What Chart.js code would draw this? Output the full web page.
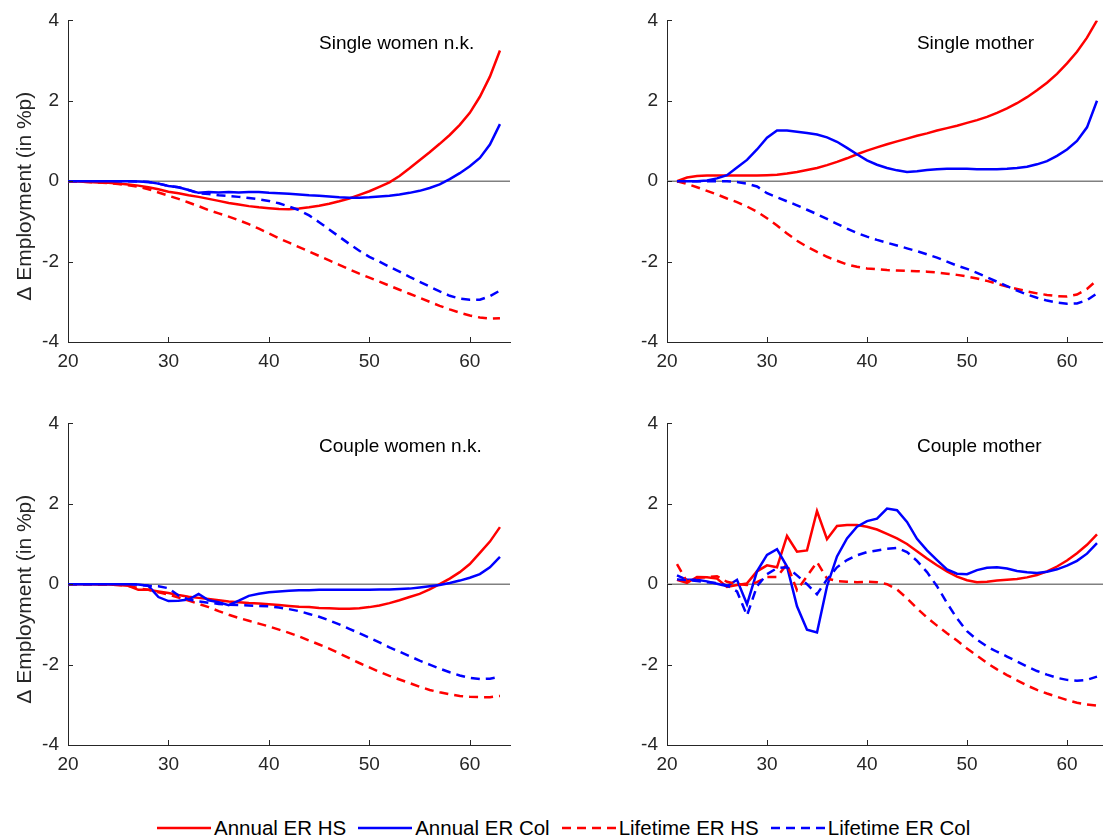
<!DOCTYPE html>
<html>
<head>
<meta charset="utf-8">
<script src="https://cdn.jsdelivr.net/npm/chart.js@4.4.1/dist/chart.umd.min.js"></script>
<style>
  body { margin: 0; background: #fff; }
  #wrap { position: relative; width: 1103px; height: 840px; overflow: hidden; background: #fff; font-family: "Liberation Sans", Arial, sans-serif; }
  .panel { position: absolute; }
  #legend { position: absolute; left: 157px; top: 817px; height: 22px; display: flex; align-items: center; font-size: 20.5px; color: #000; white-space: nowrap; }
  #legend .item { display: flex; align-items: center; margin-right: 12px; }
  #legend svg { display: block; margin-right: 3px; }
</style>
</head>
<body>
<div id="wrap">
  <div class="panel" style="left:0;top:0"><canvas id="c1" width="520" height="380"></canvas></div>
  <div class="panel" style="left:560px;top:0"><canvas id="c2" width="560" height="380"></canvas></div>
  <div class="panel" style="left:0;top:403px"><canvas id="c3" width="520" height="380"></canvas></div>
  <div class="panel" style="left:560px;top:403px"><canvas id="c4" width="560" height="380"></canvas></div>
  <div id="legend"></div>
</div>
<script>
// ages (x categories)
const ages20 = [20,21,22,23,24,25,26,27,28,29,30,31,32,33,34,35,36,37,38,39,40,41,42,43,44,45,46,47,48,49,50,51,52,53,54,55,56,57,58,59,60,61,62,63];
const ages21 = [21,22,23,24,25,26,27,28,29,30,31,32,33,34,35,36,37,38,39,40,41,42,43,44,45,46,47,48,49,50,51,52,53,54,55,56,57,58,59,60,61,62,63];

const xTicks = [20, 30, 40, 50, 60];
const yTicks = [-4, -2, 0, 2, 4];

const seriesNames = ['Annual ER HS', 'Annual ER Col', 'Lifetime ER HS', 'Lifetime ER Col'];
const panelTitles = ['Single women n.k.', 'Single mother', 'Couple women n.k.', 'Couple mother'];
const yTitle = '\u0394 Employment (in %p)';

// Single women n.k. (ages 20-63)
const swnkAnnualHS = [0,-0.01,-0.02,-0.03,-0.04,-0.06,-0.08,-0.11,-0.15,-0.2,-0.26,-0.3,-0.35,-0.39,-0.44,-0.49,-0.54,-0.58,-0.62,-0.65,-0.67,-0.69,-0.7,-0.68,-0.65,-0.61,-0.56,-0.5,-0.43,-0.34,-0.25,-0.14,-0.03,0.13,0.32,0.52,0.72,0.93,1.15,1.4,1.7,2.1,2.6,3.25];
const swnkAnnualCol = [0,0,0,0,0,0,0,-0.01,-0.02,-0.06,-0.12,-0.15,-0.22,-0.29,-0.27,-0.28,-0.27,-0.28,-0.27,-0.27,-0.29,-0.3,-0.31,-0.33,-0.35,-0.36,-0.38,-0.4,-0.41,-0.41,-0.4,-0.38,-0.36,-0.33,-0.29,-0.24,-0.17,-0.08,0.05,0.2,0.37,0.58,0.91,1.42];
const swnkLifeHS = [0,-0.01,-0.02,-0.03,-0.05,-0.07,-0.1,-0.14,-0.2,-0.28,-0.36,-0.44,-0.53,-0.62,-0.72,-0.8,-0.88,-0.97,-1.07,-1.18,-1.3,-1.42,-1.53,-1.64,-1.75,-1.86,-1.97,-2.08,-2.19,-2.3,-2.4,-2.5,-2.6,-2.7,-2.8,-2.9,-3.0,-3.1,-3.19,-3.27,-3.34,-3.39,-3.42,-3.41];
const swnkLifeCol = [0,0,0,0,0,0,0,-0.01,-0.02,-0.06,-0.12,-0.15,-0.22,-0.3,-0.32,-0.35,-0.37,-0.39,-0.42,-0.45,-0.49,-0.55,-0.63,-0.72,-0.85,-1.02,-1.2,-1.38,-1.56,-1.73,-1.88,-2.0,-2.13,-2.25,-2.38,-2.5,-2.62,-2.74,-2.85,-2.92,-2.95,-2.95,-2.86,-2.72];

// Single mother (ages 21-63)
const smAnnualHS = [0,0.09,0.13,0.14,0.14,0.14,0.14,0.14,0.14,0.15,0.16,0.19,0.23,0.28,0.33,0.4,0.48,0.57,0.67,0.76,0.84,0.92,0.99,1.06,1.13,1.19,1.26,1.32,1.38,1.45,1.52,1.6,1.7,1.81,1.94,2.09,2.26,2.45,2.67,2.93,3.22,3.57,4.0];
const smAnnualCol = [0,0,0,0.02,0.07,0.15,0.34,0.53,0.79,1.08,1.26,1.26,1.23,1.2,1.16,1.09,0.98,0.83,0.67,0.52,0.41,0.33,0.27,0.23,0.25,0.28,0.3,0.31,0.31,0.31,0.3,0.3,0.3,0.31,0.33,0.36,0.42,0.5,0.63,0.79,1.0,1.34,2.0];
const smLifeHS = [0,-0.07,-0.15,-0.24,-0.33,-0.43,-0.52,-0.63,-0.76,-0.92,-1.1,-1.3,-1.48,-1.63,-1.76,-1.88,-1.98,-2.07,-2.13,-2.17,-2.19,-2.21,-2.22,-2.23,-2.24,-2.25,-2.27,-2.3,-2.33,-2.37,-2.42,-2.48,-2.55,-2.62,-2.68,-2.74,-2.79,-2.83,-2.86,-2.87,-2.82,-2.68,-2.46];
const smLifeCol = [0,0,0,0,0,0,-0.02,-0.06,-0.13,-0.3,-0.4,-0.5,-0.6,-0.71,-0.82,-0.94,-1.06,-1.18,-1.29,-1.38,-1.46,-1.53,-1.6,-1.67,-1.74,-1.82,-1.9,-2.0,-2.1,-2.18,-2.28,-2.39,-2.5,-2.61,-2.72,-2.82,-2.9,-2.97,-3.02,-3.05,-3.04,-2.96,-2.79];

// Couple women n.k. (ages 20-63)
const cwnkAnnualHS = [0,0,0,-0.01,-0.01,-0.02,-0.04,-0.14,-0.14,-0.18,-0.22,-0.27,-0.31,-0.34,-0.37,-0.4,-0.43,-0.45,-0.47,-0.48,-0.5,-0.52,-0.54,-0.56,-0.57,-0.59,-0.6,-0.61,-0.61,-0.6,-0.57,-0.53,-0.47,-0.4,-0.32,-0.24,-0.13,0,0.14,0.3,0.5,0.78,1.06,1.42];
const cwnkAnnualCol = [0,0,0,0,0,0,0,-0.01,-0.04,-0.32,-0.42,-0.41,-0.38,-0.24,-0.4,-0.45,-0.52,-0.41,-0.29,-0.24,-0.2,-0.18,-0.16,-0.15,-0.15,-0.14,-0.14,-0.14,-0.14,-0.14,-0.14,-0.13,-0.13,-0.12,-0.11,-0.08,-0.05,-0.02,0.03,0.09,0.16,0.25,0.42,0.68];
const cwnkLifeHS = [0,0,0,-0.01,-0.01,-0.02,-0.04,-0.1,-0.14,-0.2,-0.26,-0.33,-0.41,-0.49,-0.57,-0.67,-0.76,-0.84,-0.91,-0.98,-1.05,-1.13,-1.21,-1.3,-1.4,-1.5,-1.6,-1.72,-1.84,-1.96,-2.07,-2.18,-2.28,-2.37,-2.46,-2.55,-2.63,-2.69,-2.74,-2.78,-2.8,-2.81,-2.81,-2.78];
const cwnkLifeCol = [0,0,0,0,0,0,0,-0.01,-0.04,-0.05,-0.1,-0.28,-0.38,-0.43,-0.46,-0.49,-0.51,-0.52,-0.53,-0.54,-0.55,-0.58,-0.62,-0.67,-0.74,-0.81,-0.9,-1.0,-1.11,-1.22,-1.33,-1.45,-1.57,-1.68,-1.79,-1.9,-2.0,-2.1,-2.19,-2.27,-2.33,-2.36,-2.35,-2.3];

// Couple mother (ages 21-63)
const cmAnnualHS = [0.11,0.03,0.18,0.17,0.14,-0.07,-0.02,0.02,0.32,0.47,0.42,1.2,0.81,0.84,1.82,1.12,1.45,1.47,1.47,1.43,1.36,1.25,1.14,1.0,0.82,0.64,0.47,0.32,0.19,0.1,0.05,0.06,0.09,0.11,0.13,0.17,0.23,0.32,0.44,0.59,0.77,0.98,1.24];
const cmAnnualCol = [0.22,0.11,0.11,0.07,0.01,-0.05,0.11,-0.5,0.32,0.73,0.87,0.44,-0.55,-1.13,-1.2,-0.05,0.69,1.14,1.43,1.57,1.63,1.88,1.84,1.55,1.13,0.84,0.6,0.37,0.26,0.25,0.35,0.41,0.42,0.39,0.33,0.3,0.28,0.31,0.37,0.46,0.58,0.76,1.02];
const cmLifeHS = [0.5,0.06,0.16,0.18,0.2,0.06,0,-0.02,0.05,0.18,0.18,0.5,-0.15,0.2,0.55,0.14,0.08,0.06,0.05,0.06,0.05,0,-0.13,-0.35,-0.6,-0.83,-1.03,-1.22,-1.4,-1.6,-1.78,-1.96,-2.12,-2.26,-2.39,-2.52,-2.63,-2.72,-2.8,-2.88,-2.95,-2.99,-3.02];
const cmLifeCol = [0.12,0.1,0.08,0.05,0.03,-0.03,-0.18,-0.78,-0.05,0.25,0.4,0.42,0.22,0,-0.25,0.12,0.42,0.6,0.72,0.8,0.84,0.88,0.9,0.8,0.58,0.3,-0.05,-0.47,-0.85,-1.17,-1.38,-1.55,-1.68,-1.8,-1.92,-2.05,-2.16,-2.25,-2.33,-2.38,-2.4,-2.38,-2.3];

const RED = '#ff0000';
const BLUE = '#0000ff';
const AXIS = '#262626';
const FONT = '"Liberation Sans", Arial, sans-serif';
const lineStyles = [
    { color: RED, dash: [] },
    { color: BLUE, dash: [] },
    { color: RED, dash: [9, 6] },
    { color: BLUE, dash: [9, 6] }
];

// gray line at y = 0
const zeroLinePlugin = {
    id: 'zeroLine',
    beforeDatasetsDraw(chart) {
        const { ctx, chartArea, scales } = chart;
        const y = scales.y.getPixelForValue(0);
        ctx.save();
        ctx.strokeStyle = '#808080';
        ctx.lineWidth = 1.5;
        ctx.beginPath();
        ctx.moveTo(chartArea.left, y);
        ctx.lineTo(chartArea.right, y);
        ctx.stroke();
        ctx.restore();
    }
};

// inward tick marks, title text and y label
const decorPlugin = {
    id: 'decor',
    afterDraw(chart, args, opts) {
        const { ctx, chartArea, scales } = chart;
        ctx.save();
        ctx.strokeStyle = AXIS;
        ctx.lineWidth = 1;
        ctx.beginPath();
        xTicks.forEach(v => {
            const x = Math.round(scales.x.getPixelForValue(v)) + 0.5;
            ctx.moveTo(x, chartArea.bottom);
            ctx.lineTo(x, chartArea.bottom - 5);
        });
        yTicks.forEach(v => {
            const y = Math.round(scales.y.getPixelForValue(v)) + 0.5;
            ctx.moveTo(chartArea.left, y);
            ctx.lineTo(chartArea.left + 5, y);
        });
        ctx.stroke();

        ctx.fillStyle = '#000';
        ctx.font = '19px ' + FONT;
        ctx.textBaseline = 'middle';
        ctx.textAlign = 'left';
        const w = chartArea.right - chartArea.left;
        ctx.fillText(opts.title, chartArea.left + 0.568 * w, chartArea.top + 23);

        if (opts.yLabel) {
            ctx.translate(25, (chartArea.top + chartArea.bottom) / 2 + 15);
            ctx.rotate(-Math.PI / 2);
            ctx.textAlign = 'center';
            ctx.fillStyle = AXIS;
            ctx.font = '21px ' + FONT;
            ctx.fillText(opts.yLabel, 0, 0);
        }
        ctx.restore();
    }
};

function makePanel(canvasId, title, ages, series, showYLabel, yWidth, rightPad) {
    const canvas = document.getElementById(canvasId);
    return new Chart(canvas.getContext('2d'), {
        type: 'line',
        data: {
            datasets: series.map((vals, i) => ({
                label: seriesNames[i],
                data: ages.map((a, k) => ({ x: a, y: vals[k] })),
                borderColor: lineStyles[i].color,
                borderDash: lineStyles[i].dash,
                borderWidth: 2.5,
                pointRadius: 0,
                tension: 0,
                fill: false,
                order: 3 - i
            }))
        },
        options: {
            responsive: false,
            animation: false,
            layout: { padding: { top: 18, right: rightPad, bottom: 0, left: 0 } },
            scales: {
                x: {
                    type: 'linear',
                    min: 20,
                    max: 64,
                    afterBuildTicks: s => { s.ticks = xTicks.map(v => ({ value: v })); },
                    afterFit: s => { s.height = 38; },
                    grid: { display: true, drawOnChartArea: false, drawTicks: false },
                    border: { display: true, color: AXIS, width: 1 },
                    ticks: { color: AXIS, font: { family: FONT, size: 19 }, padding: 8, maxRotation: 0 }
                },
                y: {
                    min: -4,
                    max: 4,
                    afterBuildTicks: s => { s.ticks = yTicks.map(v => ({ value: v })); },
                    afterFit: s => { s.width = yWidth; },
                    grid: { display: true, drawOnChartArea: false, drawTicks: false },
                    border: { display: true, color: AXIS, width: 1 },
                    ticks: { color: AXIS, font: { family: FONT, size: 19 }, padding: 9 }
                }
            },
            plugins: {
                legend: { display: false },
                tooltip: { enabled: false },
                decor: { title: title, yLabel: showYLabel ? yTitle : '' }
            }
        },
        plugins: [zeroLinePlugin, decorPlugin]
    });
}

makePanel('c1', panelTitles[0], ages20, [swnkAnnualHS, swnkAnnualCol, swnkLifeHS, swnkLifeCol], true, 68, 10);
makePanel('c2', panelTitles[1], ages21, [smAnnualHS, smAnnualCol, smLifeHS, smLifeCol], false, 107, 13);
makePanel('c3', panelTitles[2], ages20, [cwnkAnnualHS, cwnkAnnualCol, cwnkLifeHS, cwnkLifeCol], true, 68, 10);
makePanel('c4', panelTitles[3], ages21, [cmAnnualHS, cmAnnualCol, cmLifeHS, cmLifeCol], false, 107, 13);

// shared legend
const legend = document.getElementById('legend');
seriesNames.forEach((name, i) => {
    const item = document.createElement('div');
    item.className = 'item';
    const dash = lineStyles[i].dash.length ? 'stroke-dasharray="9 6"' : '';
    item.innerHTML = '<svg width="54" height="6"><line x1="0" y1="3" x2="54" y2="3" stroke="' +
        lineStyles[i].color + '" stroke-width="2.5" ' + dash + '/></svg><span>' + name + '</span>';
    legend.appendChild(item);
});
</script>
</body>
</html>
